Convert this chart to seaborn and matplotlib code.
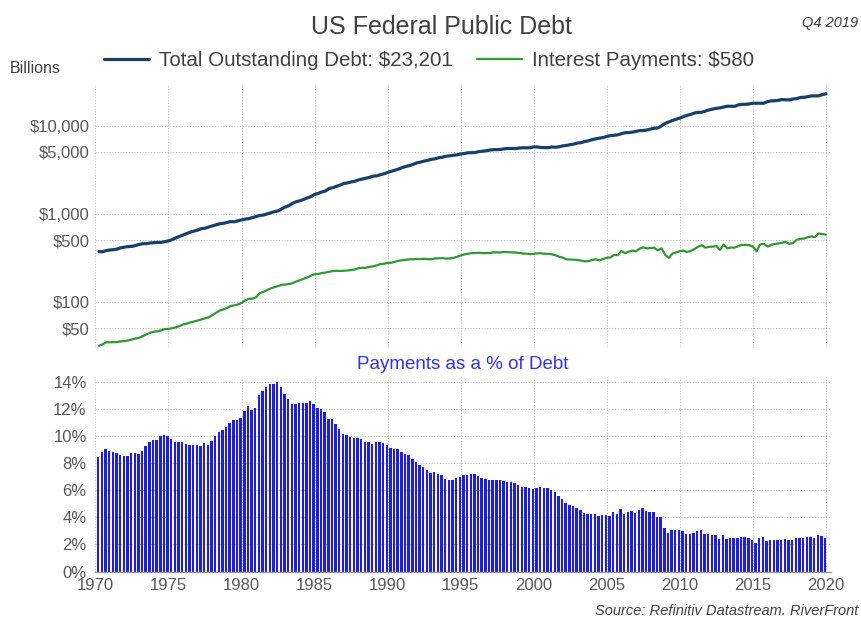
import numpy as np
import pandas as pd
import matplotlib
matplotlib.use("Agg")
import matplotlib.pyplot as plt
import seaborn as sns
from matplotlib.ticker import FixedLocator, FixedFormatter, NullLocator

# ---------------- data (quarterly, 1970Q1 .. 2019Q4) ----------------
years = list(range(1970, 2020))
quarters = [1, 2, 3, 4]

debt = [
    372.0, 370.9, 383.0, 388.5, 391.7, 398.1, 412.3, 419.1,
    425.0, 427.3, 436.7, 449.3, 458.1, 458.1, 466.3, 469.9,
    474.2, 474.2, 483.9, 492.7, 509.7, 533.2, 554.0, 576.6,
    599.1, 620.4, 635.8, 653.5, 680.1, 685.2, 709.1, 729.2,
    749.0, 771.5, 780.4, 797.7, 816.8, 812.7, 833.8, 852.2,
    871.7, 883.0, 908.7, 930.2, 960.5, 971.0, 998.0, 1028.7,
    1058.9, 1079.6, 1142.0, 1197.1, 1244.5, 1318.5, 1377.2, 1410.7,
    1463.7, 1517.2, 1572.3, 1663.0, 1710.7, 1774.6, 1823.1, 1945.9,
    1986.8, 2059.3, 2125.3, 2214.8, 2250.7, 2309.6, 2350.3, 2431.7,
    2487.6, 2547.7, 2602.3, 2684.4, 2707.3, 2793.0, 2857.4, 2953.0,
    3052.0, 3143.8, 3233.3, 3364.8, 3465.2, 3538.0, 3665.3, 3801.7,
    3881.3, 3984.7, 4065.0, 4177.0, 4230.6, 4352.0, 4411.5, 4535.7,
    4575.9, 4645.8, 4692.7, 4800.2, 4864.1, 4951.4, 4974.0, 4988.7,
    5117.8, 5161.1, 5224.8, 5323.2, 5380.9, 5376.2, 5413.1, 5502.4,
    5542.4, 5547.9, 5526.2, 5614.2, 5651.6, 5638.8, 5656.3, 5776.1,
    5773.4, 5685.9, 5674.2, 5662.2, 5773.7, 5726.8, 5807.5, 5943.4,
    6006.0, 6126.5, 6228.2, 6405.7, 6460.8, 6670.1, 6783.2, 6998.0,
    7131.1, 7274.3, 7379.1, 7596.1, 7776.9, 7836.5, 7932.7, 8170.4,
    8371.2, 8420.0, 8507.0, 8680.2, 8849.7, 8867.7, 9007.7, 9229.2,
    9437.6, 9492.0, 10024.7, 10699.8, 11126.9, 11545.3, 11909.8, 12311.4,
    12773.1, 13201.8, 13561.6, 14025.2, 14270.0, 14343.1, 14790.3, 15222.9,
    15582.1, 15855.5, 16066.2, 16432.7, 16771.4, 16738.2, 16738.2, 17352.0,
    17601.2, 17632.6, 17824.1, 18141.4, 18152.1, 18151.9, 18150.6, 18922.2,
    19264.9, 19381.6, 19573.4, 19976.8, 19846.4, 19844.6, 20244.9, 20492.9,
    21089.6, 21195.1, 21516.1, 21974.1, 22027.9, 22023.3, 22719.4, 23201.4,
]

interest = [
    31.6, 32.9, 34.7, 34.6, 34.7, 34.8, 35.5, 35.7,
    36.4, 37.3, 38.2, 39.0, 40.8, 42.6, 44.5, 45.6,
    46.2, 47.4, 48.9, 49.2, 50.0, 51.2, 52.9, 55.1,
    56.5, 58.2, 59.6, 61.3, 63.0, 65.0, 66.5, 70.4,
    74.9, 79.5, 81.7, 85.1, 89.5, 90.9, 93.2, 97.0,
    103.6, 108.2, 108.6, 112.7, 125.4, 129.7, 136.2, 142.3,
    146.4, 151.1, 155.7, 157.3, 158.9, 163.1, 170.4, 176.2,
    182.8, 188.4, 198.7, 205.4, 207.3, 212.6, 214.8, 219.1,
    223.7, 225.3, 224.0, 225.2, 227.3, 229.3, 232.7, 240.7,
    243.3, 243.6, 248.8, 253.1, 259.4, 268.1, 270.9, 276.4,
    278.0, 284.8, 292.9, 296.4, 300.4, 305.0, 304.2, 306.8,
    305.8, 308.0, 306.1, 305.3, 311.4, 312.9, 313.7, 310.2,
    310.7, 315.4, 325.7, 335.5, 345.8, 352.0, 357.6, 358.7,
    360.3, 358.2, 358.4, 358.8, 365.4, 365.0, 364.8, 368.1,
    366.9, 365.6, 363.1, 359.3, 354.4, 352.4, 349.0, 350.6,
    355.1, 356.5, 351.8, 351.1, 346.4, 337.9, 325.2, 316.8,
    303.9, 302.6, 301.4, 299.1, 293.3, 288.1, 289.6, 298.8,
    304.5, 296.1, 307.7, 316.8, 318.9, 342.5, 338.7, 377.5,
    357.5, 372.2, 382.0, 375.0, 401.8, 415.9, 404.4, 407.9,
    412.4, 384.4, 406.0, 341.3, 316.0, 353.3, 364.4, 376.7,
    381.9, 368.3, 378.4, 398.3, 422.4, 438.9, 412.7, 421.7,
    423.8, 431.3, 388.8, 447.0, 405.9, 413.4, 413.4, 428.6,
    443.5, 444.3, 440.3, 426.3, 375.7, 448.4, 457.4, 425.7,
    443.1, 455.5, 460.0, 469.5, 480.3, 456.4, 465.6, 506.2,
    520.9, 523.5, 542.2, 553.7, 544.1, 599.0, 588.4, 580.0,
]

pct = [
    8.50, 8.86, 9.06, 8.90, 8.86, 8.74, 8.62, 8.52,
    8.57, 8.74, 8.74, 8.67, 8.90, 9.30, 9.55, 9.70,
    9.75, 10.00, 10.10, 9.98, 9.80, 9.60, 9.55, 9.55,
    9.43, 9.38, 9.38, 9.38, 9.26, 9.48, 9.38, 9.65,
    10.00, 10.30, 10.47, 10.67, 10.96, 11.18, 11.18, 11.38,
    11.88, 12.25, 11.95, 12.12, 13.06, 13.36, 13.65, 13.83,
    13.83, 14.00, 13.63, 13.14, 12.77, 12.37, 12.37, 12.49,
    12.49, 12.42, 12.64, 12.35, 12.12, 11.98, 11.78, 11.26,
    11.26, 10.94, 10.54, 10.17, 10.10, 9.93, 9.90, 9.90,
    9.78, 9.56, 9.56, 9.43, 9.58, 9.60, 9.48, 9.36,
    9.11, 9.06, 9.06, 8.81, 8.67, 8.62, 8.30, 8.07,
    7.88, 7.73, 7.53, 7.31, 7.36, 7.19, 7.11, 6.84,
    6.79, 6.79, 6.94, 6.99, 7.11, 7.11, 7.19, 7.19,
    7.04, 6.94, 6.86, 6.74, 6.79, 6.79, 6.74, 6.69,
    6.62, 6.59, 6.57, 6.40, 6.27, 6.25, 6.17, 6.07,
    6.15, 6.27, 6.20, 6.20, 6.00, 5.90, 5.60, 5.33,
    5.06, 4.94, 4.84, 4.67, 4.54, 4.32, 4.27, 4.27,
    4.27, 4.07, 4.17, 4.17, 4.10, 4.37, 4.27, 4.62,
    4.27, 4.42, 4.49, 4.32, 4.54, 4.69, 4.49, 4.42,
    4.37, 4.05, 4.05, 3.19, 2.84, 3.06, 3.06, 3.06,
    2.99, 2.79, 2.79, 2.84, 2.96, 3.06, 2.79, 2.77,
    2.72, 2.72, 2.42, 2.72, 2.42, 2.47, 2.47, 2.47,
    2.52, 2.52, 2.47, 2.35, 2.07, 2.47, 2.52, 2.25,
    2.30, 2.35, 2.35, 2.35, 2.42, 2.30, 2.30, 2.47,
    2.47, 2.47, 2.52, 2.52, 2.47, 2.72, 2.59, 2.50,
]

x_ticks = [1970, 1975, 1980, 1985, 1990, 1995, 2000, 2005, 2010, 2015, 2020]
debt_ticks = [50, 100, 500, 1000, 5000, 10000]
debt_tick_labels = ["$50", "$100", "$500", "$1,000", "$5,000", "$10,000"]
pct_ticks = [0, 2, 4, 6, 8, 10, 12, 14]
pct_tick_labels = ["0%", "2%", "4%", "6%", "8%", "10%", "12%", "14%"]

title = "US Federal Public Debt"
subtitle = "Payments as a % of Debt"
debt_label = "Total Outstanding Debt: $23,201"
interest_label = "Interest Payments: $580"

# ---------------- frame ----------------
yr = np.repeat(years, 4)
qt = np.tile(quarters, len(years))
df = pd.DataFrame({"year": yr, "q": qt, "debt": debt, "interest": interest, "pct": pct})
df["date"] = df["year"] + df["q"] / 4.0          # quarter-end position for lines
df["barx"] = df["date"] - 0.06                    # bar centres

# ---------------- style ----------------
sns.set_theme(style="white")
plt.rcParams["font.family"] = ["Liberation Sans", "DejaVu Sans"]
TXT = "#404040"
TICK = "#595959"
GRID = "#c4c4c4"

W, H = 861, 619
fig = plt.figure(figsize=(W / 100, H / 100), dpi=100)
L, R = 95, 831
ax1 = fig.add_axes([L / W, 1 - 348 / H, (R - L) / W, (348 - 85) / H])
ax2 = fig.add_axes([L / W, 1 - 571.5 / H, (R - L) / W, (571.5 - 376.7) / H])

# top panel lines
sns.lineplot(data=df, x="date", y="debt", ax=ax1, color="#17406d", lw=2.3,
             label=debt_label)
sns.lineplot(data=df, x="date", y="interest", ax=ax1, color="#2f9a2f", lw=1.6,
             label=interest_label)
handles, labels = ax1.get_legend_handles_labels()
if ax1.get_legend() is not None:
    ax1.get_legend().remove()

ax1.set_yscale("log")
ax1.set_ylim(29.8, 29250)
ax1.set_xlim(1969.97, 2020.35)
ax1.yaxis.set_major_locator(FixedLocator(debt_ticks))
ax1.yaxis.set_major_formatter(FixedFormatter(debt_tick_labels))
ax1.yaxis.set_minor_locator(NullLocator())
ax1.set_xticks(x_ticks)
ax1.set_xticklabels([""] * len(x_ticks))

# bottom panel bars
sns.barplot(data=df, x="barx", y="pct", ax=ax2, native_scale=True,
            color="#1a1aff", saturation=1, width=0.66, errorbar=None,
            linewidth=0)
ax2.set_xlim(1969.97, 2020.35)
ax2.set_ylim(0, 14.4)
ax2.set_yticks(pct_ticks)
ax2.set_yticklabels(pct_tick_labels)
ax2.set_xticks(x_ticks)
ax2.set_xticklabels([str(t) for t in x_ticks])

for ax in (ax1, ax2):
    ax.set_xlabel("")
    ax.set_ylabel("")
    ax.set_axisbelow(True)
    ax.grid(True, which="major", ls=(0, (1, 1.5)), color=GRID, lw=0.8)
    for s in ax.spines.values():
        s.set_visible(False)
    ax.tick_params(axis="both", length=0, labelsize=12, labelcolor=TICK)
    ax.set_facecolor("white")

ax1.tick_params(axis="y", pad=4)
ax2.tick_params(axis="y", pad=6)
ax2.tick_params(axis="x", pad=4.5)
ax2.spines["bottom"].set_visible(True)
ax2.spines["bottom"].set_color("#9a9a9a")
ax2.spines["bottom"].set_linewidth(1.0)

# ---------------- texts ----------------
fig.text(441 / W, 1 - 34 / H, title, ha="center", va="baseline",
         fontsize=18, color=TXT)
fig.text(858 / W, 1 - 26.5 / H, "Q4 2019", ha="right", va="baseline",
         fontsize=10.5, style="italic", color=TXT)
fig.text(10 / W, 1 - 72.7 / H, "Billions", ha="left", va="baseline",
         fontsize=11.5, color=TXT)
fig.text((L + R) / 2 / W, 1 - 369 / H, subtitle, ha="center", va="baseline",
         fontsize=13.5, color="#3030ff")
fig.text(858 / W, 1 - 615 / H, "Source: Refinitiv Datastream. RiverFront",
         ha="right", va="baseline", fontsize=10.5, style="italic", color=TXT)

fig.legend(handles, labels, loc="center", bbox_to_anchor=(429 / W, 1 - 60.5 / H),
           ncol=2, frameon=False, fontsize=14.8, handlelength=2.2,
           handletextpad=0.45, columnspacing=1.2, labelcolor=TXT,
           borderaxespad=0, borderpad=0)

fig.savefig("out.png", dpi=100, facecolor="white")
